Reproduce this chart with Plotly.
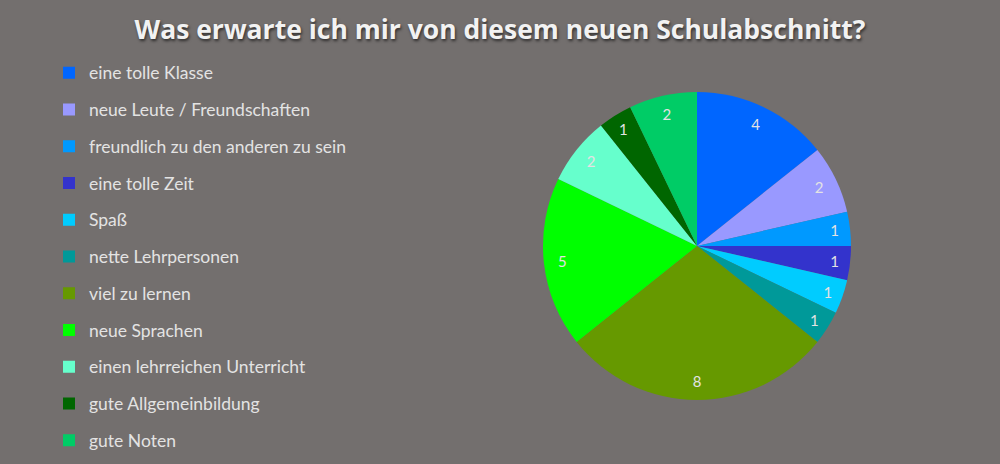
import plotly.graph_objects as go

# Daten aus der Umfrage
kategorien = ['eine tolle Klasse', 'neue Leute / Freundschaften', 'freundlich zu den anderen zu sein',
              'eine tolle Zeit', 'Spaß', 'nette Lehrpersonen', 'viel zu lernen', 'neue Sprachen',
              'einen lehrreichen Unterricht', 'gute Allgemeinbildung', 'gute Noten']
anzahl = [4, 2, 1, 1, 1, 1, 8, 5, 2, 1, 2]
farben = ['#0066FF', '#9999FF', '#0099FF', '#3333CC', '#00CCFF', '#009999',
          '#669900', '#00FF00', '#66FFCC', '#006600', '#00CC66']

hintergrund = '#736f6e'
textfarbe = '#e3e3e3'
bereich = dict(x=[0.543, 0.851], y=[0.136, 0.804])

fig = go.Figure()
# der eigentliche Kuchen, ohne Beschriftung
fig.add_trace(go.Pie(
    labels=kategorien, values=anzahl, sort=False, direction='clockwise', rotation=0,
    marker=dict(colors=farben, line=dict(width=0)),
    textinfo='none', showlegend=False, hoverinfo='label+value',
    domain=bereich,
))
# durchsichtiger Ring obendrauf, damit die Zahlen weiter aussen stehen
fig.add_trace(go.Pie(
    labels=kategorien, values=anzahl, sort=False, direction='clockwise', rotation=0,
    hole=0.76, marker=dict(colors=['rgba(0,0,0,0)'] * len(anzahl), line=dict(width=0)),
    textinfo='value', textposition='inside', insidetextorientation='horizontal',
    textfont=dict(family='Lato', size=15, color=textfarbe),
    showlegend=False, hoverinfo='skip',
    domain=bereich,
))

# Legende über Hilfsspuren, damit der Abstand zwischen den Einträgen stimmt
for i, (k, f) in enumerate(zip(kategorien, farben)):
    fig.add_trace(go.Scatter(
        x=[None], y=[None], mode='markers', name=k, legendgroup=f'g{i}',
        marker=dict(symbol='square', size=10, color=f),
    ))

fig.update_layout(
    width=1000, height=464,
    paper_bgcolor=hintergrund, plot_bgcolor=hintergrund,
    margin=dict(l=0, r=0, t=0, b=0, autoexpand=False),
    title=dict(text='<b>Was erwarte ich mir von diesem neuen Schulabschnitt?</b>',
               x=0.5, xanchor='center', y=0.935, yanchor='middle',
               font=dict(family='Open Sans', size=26.5, color='#f2f2f2',
                         shadow='1px 2px 3px rgba(0,0,0,0.6)')),
    xaxis=dict(visible=False), yaxis=dict(visible=False),
    legend=dict(x=0.049, y=0.882, xanchor='left', yanchor='top',
                traceorder='grouped', tracegroupgap=11, itemsizing='constant',
                maxheight=464,
                font=dict(family='Lato', size=17.5, color=textfarbe),
                bgcolor='rgba(0,0,0,0)'),
)

fig.write_html("out.html", config=dict(displayModeBar=False),
               post_script="document.body.style.margin='0';")
